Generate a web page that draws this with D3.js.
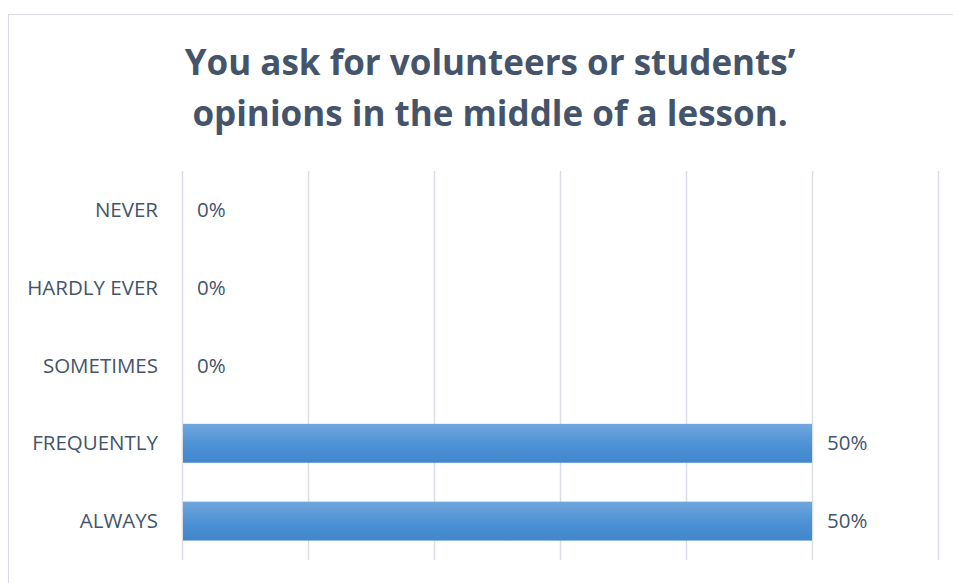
<!DOCTYPE html>
<html lang="en">
<head>
<meta charset="UTF-8"/>
<title>You ask for volunteers</title>
<script src="https://d3js.org/d3.v7.min.js"></script>
<style>
  body { margin: 0; background: #fff; }
  text { font-family: "Open Sans", sans-serif; }
</style>
</head>
<body>
<script>
// data
var categories = ["NEVER", "HARDLY EVER", "SOMETIMES", "FREQUENTLY", "ALWAYS"];
var values = [0, 0, 0, 50, 50];
var xTicks = [0, 10, 20, 30, 40, 50, 60];
var titleLines = ["You ask for volunteers or students\u2019", "opinions in the middle of a lesson."];

var w = 953, h = 583;
var plotLeft = 182, plotRight = 938, plotTop = 171, plotBottom = 560;

var svg = d3.select("body").append("svg")
    .attr("width", w)
    .attr("height", h);

// gradient for the bars
var grad = svg.append("defs").append("linearGradient")
    .attr("id", "barGrad")
    .attr("x1", 0).attr("y1", 0).attr("x2", 0).attr("y2", 1);
grad.append("stop").attr("offset", "0%").attr("stop-color", "#71a6dd");
grad.append("stop").attr("offset", "50%").attr("stop-color", "#4f93d6");
grad.append("stop").attr("offset", "100%").attr("stop-color", "#4185cb");

// chart frame (only left and top edges show)
svg.append("rect")
    .attr("x", 8.5).attr("y", 14.5)
    .attr("width", 960).attr("height", 600)
    .attr("fill", "none")
    .attr("stroke", "#d9dde3");

var xScale = d3.scaleLinear()
    .domain([0, 60])
    .range([plotLeft, plotRight]);

var yScale = d3.scaleBand()
    .domain(categories)
    .range([plotTop, plotBottom])
    .paddingInner(0.5)
    .paddingOuter(0.25);

// gridlines
svg.append("g")
    .selectAll("line")
    .data(xTicks)
    .enter()
    .append("line")
    .attr("x1", function(d) { return Math.round(xScale(d)) + 0.5; })
    .attr("x2", function(d) { return Math.round(xScale(d)) + 0.5; })
    .attr("y1", plotTop)
    .attr("y2", plotBottom)
    .attr("stroke", "#d9dee6")
    .attr("stroke-width", 1.5);

// bars
svg.selectAll("rect.bar")
    .data(values)
    .enter()
    .append("rect")
    .attr("class", "bar")
    .attr("x", xScale(0) + 1)
    .attr("y", function(d, i) { return yScale(categories[i]); })
    .attr("width", function(d) { return Math.max(0, xScale(d) - xScale(0) - 1); })
    .attr("height", yScale.bandwidth())
    .attr("fill", "url(#barGrad)");

// category labels
svg.selectAll("text.cat")
    .data(categories)
    .enter()
    .append("text")
    .attr("class", "cat")
    .attr("x", plotLeft - 24)
    .attr("y", function(d) { return yScale(d) + yScale.bandwidth() / 2; })
    .attr("dy", "0.35em")
    .attr("text-anchor", "end")
    .attr("font-size", 20.5)
    .attr("fill", "#44546a")
    .text(function(d) { return d; });

// value labels
svg.selectAll("text.val")
    .data(values)
    .enter()
    .append("text")
    .attr("class", "val")
    .attr("x", function(d) { return xScale(d) + 15; })
    .attr("y", function(d, i) { return yScale(categories[i]) + yScale.bandwidth() / 2; })
    .attr("dy", "0.35em")
    .attr("font-size", 20.5)
    .attr("fill", "#44546a")
    .text(function(d) { return d + "%"; });

// title
svg.selectAll("text.title")
    .data(titleLines)
    .enter()
    .append("text")
    .attr("class", "title")
    .attr("x", 490)
    .attr("y", function(d, i) { return 75 + i * 51; })
    .attr("text-anchor", "middle")
    .attr("font-size", 35)
    .attr("font-weight", "bold")
    .attr("fill", "#44546a")
    .text(function(d) { return d; });
</script>
</body>
</html>
